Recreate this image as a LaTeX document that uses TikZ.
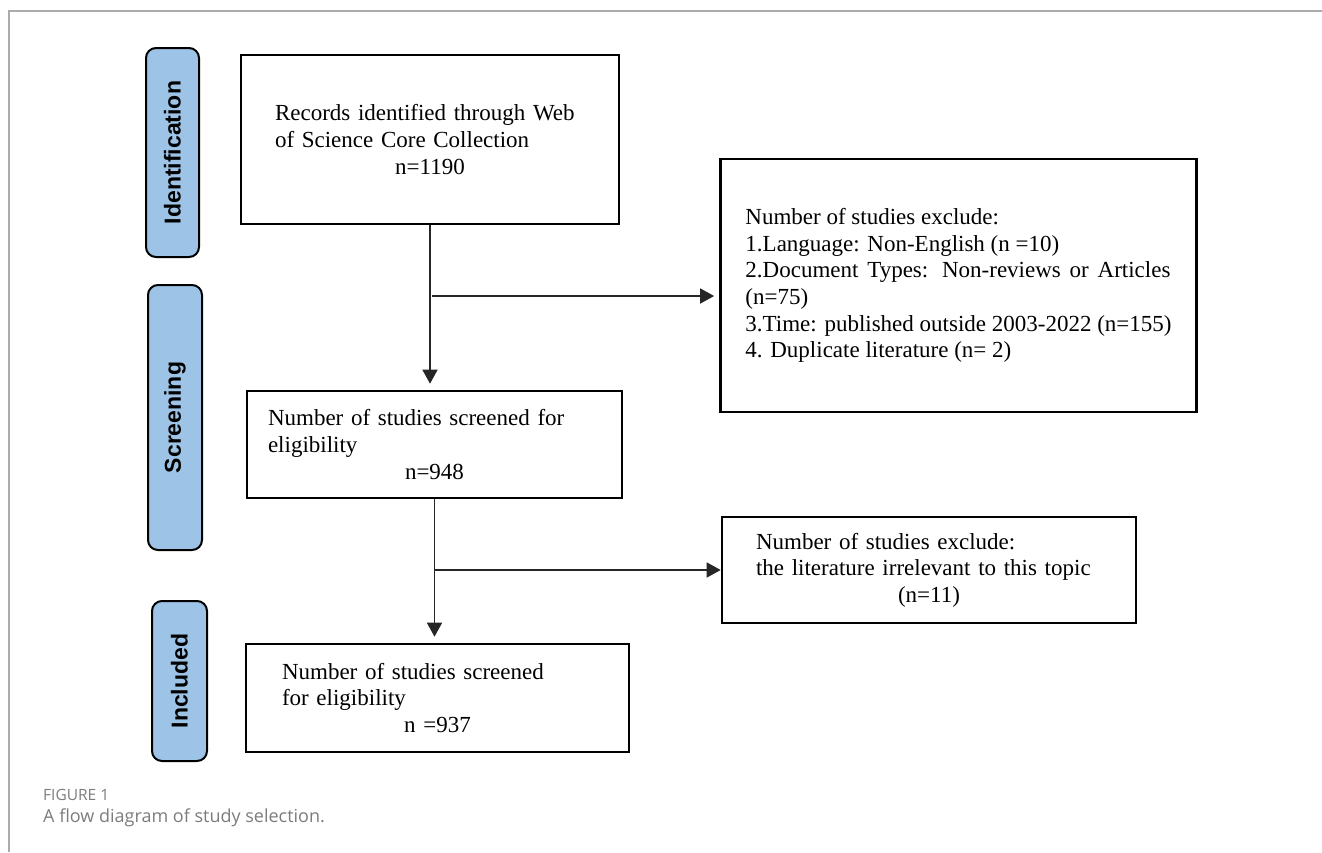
\documentclass[tikz,border=0pt]{standalone}
\usepackage{fontspec}
\setmainfont{Liberation Serif}
\newfontfamily\tabfont{Liberation Sans}
\newfontfamily\capfont{Open Sans}
\usetikzlibrary{arrows.meta}
\definecolor{tabblue}{HTML}{9DC3E6}
\definecolor{framegray}{HTML}{ABABAB}
\definecolor{capgray}{HTML}{7C7C7C}
\begin{document}
\begin{tikzpicture}[x=1pt,y=-1pt,
  box/.style={draw=black, line width=2.6pt, align=left, inner ysep=0pt,
    font=\fontsize{23}{26.6}\selectfont},
  tabbox/.style={draw=black, line width=2pt, fill=tabblue, rounded corners=10pt,
    rotate=90, inner sep=0pt, font=\tabfont\bfseries\fontsize{23}{26}\selectfont},
  conn/.style={draw=black!85, line width=1.5pt},
  arr/.style={conn, -{Triangle[width=15pt,length=14pt]}},
  captext/.style={anchor=base west, inner sep=0pt, text=capgray}]
\useasboundingbox (0,0) rectangle (1322,852);
% frame
\draw[framegray, line width=1.5pt] (9,852) -- (9,11) -- (1322,11);
% stage tabs
\node[tabbox, minimum width=209pt, minimum height=53pt] (tabI) at (172.5,152.5) {Identification};
\node[tabbox, minimum width=265pt, minimum height=54pt] (tabS) at (175,417.5) {Screening};
\node[tabbox, minimum width=160pt, minimum height=55pt] (tabN) at (179.5,681) {Included};
% boxes
\node[box, minimum width=378pt, minimum height=169pt, text width=310pt, inner xsep=34pt] (box1) at (430,139.5)
  {Records identified through Web\\ of Science Core Collection\\ \makebox[310pt]{n=1190}};
\node[box, minimum width=475pt, minimum height=253pt, inner xsep=25pt] (box3) at (958.5,285.5)
  {Number of studies exclude:\\ 1.Language: Non-English (n =10)\\ \makebox[425pt][s]{2.Document Types: Non-reviews or Articles}\\ (n=75)\\ 3.Time: published outside 2003-2022 (n=155)\\ 4. Duplicate literature (n= 2)};
\node[box, minimum width=375pt, minimum height=107pt, text width=333pt, inner xsep=21pt] (box2) at (434.5,444.5)
  {Number of studies screened for\\ eligibility\\ \makebox[333pt]{n=948}};
\node[box, minimum width=414pt, minimum height=106pt, text width=346pt, inner xsep=34pt] (box5) at (929,570)
  {Number of studies exclude:\\ the literature irrelevant to this topic\\ \makebox[346pt]{(n=11)}};
\node[box, minimum width=383pt, minimum height=108pt, text width=311pt, inner xsep=36pt] (box4) at (437.5,698)
  {Number of studies screened\\ for eligibility\\ \makebox[311pt]{n =937}};
% connectors
\coordinate (j1) at (432,296);
\coordinate (j2) at (435,570);
\draw[arr, shorten >=6pt] (box1.south) -- (box1.south |- box2.north);
\draw[arr, shorten >=5pt] (j1) -- (j1 -| box3.west);
\draw[arr, shorten >=6pt] (box2.south) -- (box2.south |- box4.north);
\draw[arr] (j2) -- (j2 -| box5.west);
% caption
\node[captext, font=\capfont\fontsize{15.5}{18}\selectfont] (fig) at (43,800) {FIGURE 1};
\node[captext, font=\capfont\fontsize{18}{21}\selectfont] (cap) at (43,822.7) {A flow diagram of study selection.};
\end{tikzpicture}
\end{document}
